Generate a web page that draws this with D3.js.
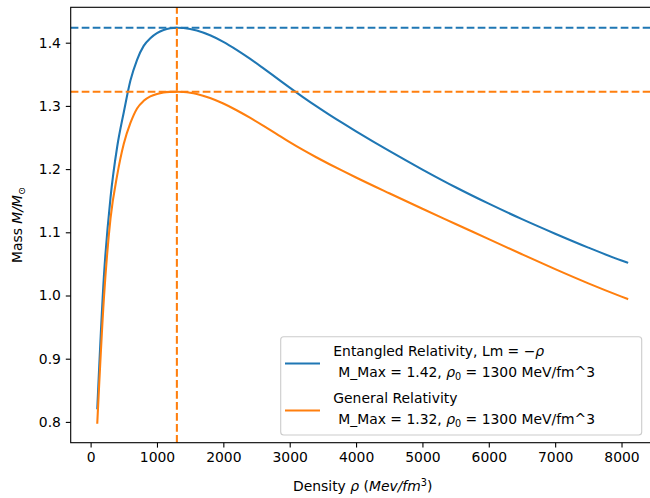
<!DOCTYPE html>
<html>
<head>
<meta charset="utf-8">
<script src="https://cdn.jsdelivr.net/npm/d3@7"></script>
<style>
  body { margin: 0; background: #fff; }
  text { font-family: "DejaVu Sans", sans-serif; }
</style>
</head>
<body>
<script>
var w = 650;
var h = 498;

// density values (MeV/fm^3) where the curves were sampled
var density = [100, 200, 300, 400, 500, 600, 700, 800, 900, 1000, 1100, 1200, 1300, 1400, 1500, 1600, 1800,
               2000, 2200, 2400, 2600, 2800, 3000, 3200, 3400, 3600, 3800, 4000, 4500,
               5000, 5500, 6000, 6500, 7000, 7500, 8000, 8100];

// Entangled Relativity masses
var massER = [0.820, 1.030, 1.155, 1.235, 1.290, 1.340, 1.373, 1.395, 1.407, 1.415, 1.420, 1.4228, 1.4237, 1.4232, 1.4218, 1.4194, 1.4118,
              1.4014, 1.3888, 1.3748, 1.3598, 1.3444, 1.3290, 1.3140, 1.2996, 1.2858, 1.2726, 1.2598, 1.2288,
              1.1993, 1.1713, 1.1453, 1.1208, 1.0978, 1.0758, 1.0553, 1.0516];

// General Relativity masses
var massGR = [0.797, 0.995, 1.122, 1.190, 1.240, 1.273, 1.296, 1.308, 1.315, 1.319, 1.3213, 1.3222, 1.3225, 1.3221, 1.3209, 1.3189, 1.3125,
              1.3037, 1.2931, 1.2813, 1.2687, 1.2557, 1.2427, 1.2303, 1.2187, 1.2077, 1.1971, 1.1867, 1.1617,
              1.1372, 1.1132, 1.0892, 1.0652, 1.0417, 1.0192, 0.9982, 0.9942];

var maxER = 1.4237;
var maxGR = 1.3225;
var rho0 = 1300;

var xTicks = [0, 1000, 2000, 3000, 4000, 5000, 6000, 7000, 8000];
var yTicks = [0.8, 0.9, 1.0, 1.1, 1.2, 1.3, 1.4];

var legendLabels = [
    ["Entangled Relativity, Lm = \u2212", "M_Max = 1.42, ", " = 1300 MeV/fm^3"],
    ["General Relativity", "M_Max = 1.32, ", " = 1300 MeV/fm^3"]
];

var blue = "#1f77b4";
var orange = "#ff7f0e";

// plot box (the right spine lies just outside the picture)
var mLeft = 70.7, mRight = 654.7, mTop = 7.3, mBottom = 442.7;

var svg = d3.select("body")
            .append("svg")
            .attr("width", w)
            .attr("height", h);

var xScale = d3.scaleLinear()
               .domain([-300, 8500])
               .range([mLeft, mRight]);

var yScale = d3.scaleLinear()
               .domain([0.7671, 1.456])
               .range([mBottom, mTop]);

svg.append("clipPath")
   .attr("id", "plotClip")
   .append("rect")
   .attr("x", mLeft)
   .attr("y", mTop)
   .attr("width", mRight - mLeft)
   .attr("height", mBottom - mTop);

var plot = svg.append("g").attr("clip-path", "url(#plotClip)");

var line = d3.line()
             .curve(d3.curveMonotoneX)
             .x(function (d) { return xScale(d[0]); })
             .y(function (d) { return yScale(d[1]); });

plot.append("path")
    .datum(d3.zip(density, massER))
    .attr("d", line)
    .attr("fill", "none")
    .attr("stroke", blue)
    .attr("stroke-width", 2.08);

plot.append("path")
    .datum(d3.zip(density, massGR))
    .attr("d", line)
    .attr("fill", "none")
    .attr("stroke", orange)
    .attr("stroke-width", 2.08);

// the dashed max lines
var dash = "7.7,3.3";
plot.append("line")
    .attr("x1", mLeft).attr("x2", mRight)
    .attr("y1", yScale(maxER)).attr("y2", yScale(maxER))
    .attr("stroke", blue).attr("stroke-width", 2.08)
    .attr("stroke-dasharray", dash);

plot.append("line")
    .attr("x1", mLeft).attr("x2", mRight)
    .attr("y1", yScale(maxGR)).attr("y2", yScale(maxGR))
    .attr("stroke", orange).attr("stroke-width", 2.08)
    .attr("stroke-dasharray", dash);

plot.append("line")
    .attr("x1", xScale(rho0)).attr("x2", xScale(rho0))
    .attr("y1", mBottom).attr("y2", mTop)
    .attr("stroke", orange).attr("stroke-width", 2.08)
    .attr("stroke-dasharray", dash);

// axes
var xAxis = d3.axisBottom(xScale)
              .tickValues(xTicks)
              .tickSize(4.9)
              .tickPadding(4.9)
              .tickFormat(d3.format("d"));

var yAxis = d3.axisLeft(yScale)
              .tickValues(yTicks)
              .tickSize(4.9)
              .tickPadding(4.9)
              .tickFormat(d3.format(".1f"));

var gx = svg.append("g")
            .attr("transform", "translate(0," + mBottom + ")")
            .call(xAxis);

var gy = svg.append("g")
            .attr("transform", "translate(" + mLeft + ",0)")
            .call(yAxis);

[gx, gy].forEach(function (g) {
    g.select(".domain").remove();
    g.selectAll(".tick line").attr("stroke", "#000").attr("stroke-width", 1.1);
    g.selectAll(".tick text")
     .attr("fill", "#000")
     .style("font-size", "13.9px")
     .style("font-family", "DejaVu Sans");
});

// spines
svg.append("rect")
   .attr("x", mLeft)
   .attr("y", mTop)
   .attr("width", mRight - mLeft)
   .attr("height", mBottom - mTop)
   .attr("fill", "none")
   .attr("stroke", "#000")
   .attr("stroke-width", 1.1);

// axis labels
var xl = svg.append("text")
            .attr("x", (mLeft + mRight) / 2)
            .attr("y", 491)
            .attr("text-anchor", "middle")
            .style("font-size", "13.9px");
xl.append("tspan").text("Density ");
xl.append("tspan").style("font-style", "italic").text("\u03c1");
xl.append("tspan").text(" (");
xl.append("tspan").style("font-style", "italic").text("Mev/fm");
xl.append("tspan").attr("dy", -5).style("font-size", "9.7px").text("3");
xl.append("tspan").attr("dy", 5).text(")");

var yl = svg.append("text")
            .attr("transform", "translate(22," + ((mTop + mBottom) / 2) + ") rotate(-90)")
            .attr("text-anchor", "middle")
            .style("font-size", "13.9px");
yl.append("tspan").text("Mass ");
yl.append("tspan").style("font-style", "italic").text("M/M");
yl.append("tspan").attr("dy", 3).style("font-size", "9.7px").text("\u2299");

// legend
var lg = svg.append("g");
lg.append("rect")
  .attr("x", 280.7)
  .attr("y", 336.7)
  .attr("width", 361)
  .attr("height", 98.3)
  .attr("rx", 3)
  .attr("fill", "#fff")
  .attr("fill-opacity", 0.8)
  .attr("stroke", "#cccccc")
  .attr("stroke-width", 1.1);

var legendColors = [blue, orange];
var legendRows = [357.5, 404.5];
legendLabels.forEach(function (lab, i) {
    var y0 = legendRows[i];
    lg.append("line")
      .attr("x1", 285).attr("x2", 320)
      .attr("y1", y0 + 6).attr("y2", y0 + 6)
      .attr("stroke", legendColors[i])
      .attr("stroke-width", 2.08);
    var t1 = lg.append("text")
               .attr("x", 333.3)
               .attr("y", y0 - 2)
               .style("font-size", "13.9px");
    t1.append("tspan").text(lab[0]);
    if (i === 0) {
        t1.append("tspan").style("font-style", "italic").text("\u03c1");
    }
    var t2 = lg.append("text")
               .attr("x", 338.3)
               .attr("y", y0 + 19.5)
               .style("font-size", "13.9px");
    t2.append("tspan").text(lab[1]);
    t2.append("tspan").style("font-style", "italic").text("\u03c1");
    t2.append("tspan").attr("dy", 3).style("font-size", "9.7px").text("0");
    t2.append("tspan").attr("dy", -3).text(lab[2]);
});
</script>
</body>
</html>
